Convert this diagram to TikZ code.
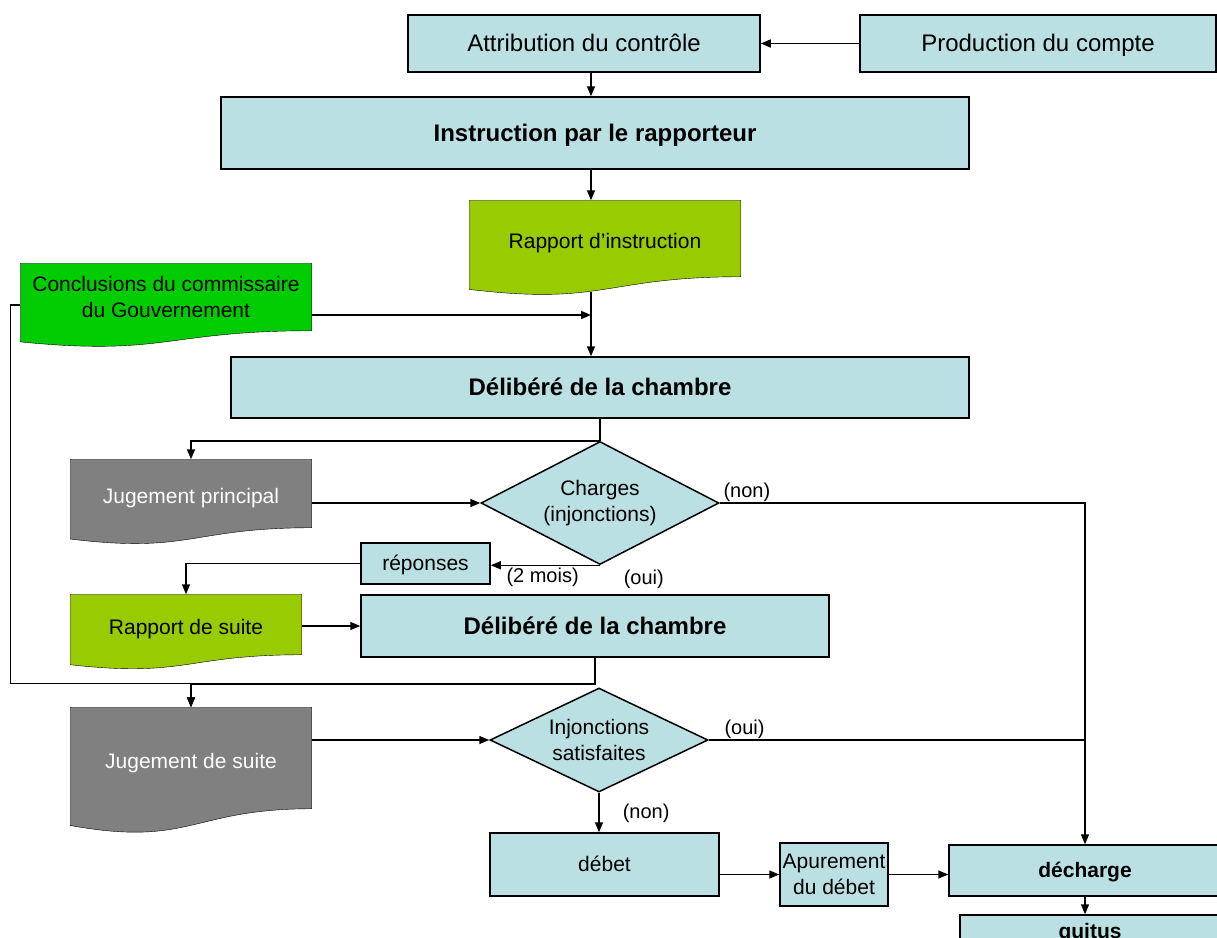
\documentclass[tikz,border=0pt]{standalone}
\usepackage{fontspec}
\setmainfont{Liberation Sans}
\usetikzlibrary{shapes.geometric,arrows.meta,calc,positioning,backgrounds}

\definecolor{lblue}{RGB}{187,224,227}
\definecolor{lgreen}{RGB}{153,204,0}
\definecolor{dgreen}{RGB}{0,204,0}
\definecolor{dgrey}{RGB}{128,128,128}

% document shape: top rectangle is the node, wavy bottom below it
\newcommand{\wave}[2]{\draw[fill=#2] (#1.north west) -- (#1.north east) -- (#1.south east)
  .. controls (#1.south) and ($(#1.north)!1.38!(#1.south)$) .. ($(#1.north west)!1.165!(#1.south west)$) -- cycle;}

\begin{document}
\begin{tikzpicture}[x=1pt,y=-1pt, line width=1.5pt,
    >={Triangle[length=10pt,width=8pt]},
    box/.style={draw, fill=lblue, inner sep=0pt, align=center, font=\fontsize{21}{26}\selectfont},
    cap21/.style={text height=19.5pt, text depth=4.8pt},
    cap24/.style={text height=22.3pt, text depth=5.5pt},
    bigbox/.style={box, cap24, font=\fontsize{24}{29}\selectfont},
    boldbox/.style={box, cap24, font=\fontsize{24}{29}\selectfont\bfseries},
    docbox/.style={inner sep=0pt, align=center, font=\fontsize{21}{26}\selectfont},
    doctext/.style={text height=25.5pt, text depth=4.8pt},
    decision/.style={diamond, draw, fill=lblue, inner sep=0pt, aspect=2, align=center, font=\fontsize{21}{26}\selectfont},
    lbl/.style={inner sep=1pt, font=\fontsize{20}{24}\selectfont}]

    \useasboundingbox (0,0) rectangle (1217,937);

    % top
    \node[bigbox, minimum width=352pt, minimum height=57pt] (attr) at (584,43.5) {Attribution du contr\^ole};
    \node[bigbox, minimum width=356pt, minimum height=57pt] (prod) at (1038,43.5) {Production du compte};
    \node[boldbox, minimum width=748pt, minimum height=72pt] (instr) at (595,133) {Instruction par le rapporteur};
    \node[docbox, doctext, minimum width=270pt, minimum height=75pt] (rapp) at (605,238.5) {Rapport d'instruction};
    \node[docbox, minimum width=290pt, minimum height=66pt] (concl) at (166,297) {Conclusions du commissaire\\du Gouvernement};
    \node[boldbox, minimum width=738pt, minimum height=61pt] (delib1) at (600,387.5) {D\'elib\'er\'e de la chambre};

    % jugement principal
    \node[decision, minimum width=238pt, minimum height=123pt] (dia1) at (600,503) {Charges\\(injonctions)};
    \node[docbox, doctext, text=white, minimum width=240pt, minimum height=67pt] (jugP) at (191,493.5) {Jugement principal};
    \node[box, cap21, minimum width=129pt, minimum height=41pt] (rep) at (425.5,563.5) {r\'eponses};
    \node[docbox, doctext, minimum width=230pt, minimum height=59pt] (rapsuite) at (186,624.5) {Rapport de suite};
    \node[boldbox, minimum width=468pt, minimum height=62pt] (delib2) at (595,626) {D\'elib\'er\'e de la chambre};

    % jugement de suite
    \node[decision, minimum width=218pt, minimum height=104pt] (dia2) at (599,740) {Injonctions\\satisfaites};
    \node[docbox, doctext, text=white, minimum width=240pt, minimum height=100pt] (jugS) at (191,758) {Jugement de suite};
    \node[box, cap21, minimum width=229pt, minimum height=63pt] (debet) at (604.5,864.5) {d\'ebet};
    \node[box, minimum width=108pt, minimum height=63pt] (apur) at (834,874.5) {Apurement\\du d\'ebet};
    \node[box, cap21, font=\fontsize{21}{26}\selectfont\bfseries, minimum width=272pt, minimum height=51pt] (decharge) at (1085,870.5) {d\'echarge};
    \node[box, cap21, font=\fontsize{21}{26}\selectfont\bfseries, minimum width=260pt, minimum height=32pt] (quitus) at (1090,931) {quitus};

    \begin{scope}[on background layer]
        \wave{rapp}{lgreen}
        \wave{concl}{dgreen}
        \wave{jugP}{dgrey}
        \wave{rapsuite}{lgreen}
        \wave{jugS}{dgrey}
    \end{scope}

    \coordinate (axis) at (591,0);
    \coordinate (rappout) at ([yshift=-15pt]rapp.south -| axis);
    \coordinate (join) at (591,315);

    \draw[->] (prod) -- (attr);
    \draw[->] (attr.south -| axis) -- (instr.north -| axis);
    \draw[->] (instr.south -| axis) -- (rapp.north -| axis);
    \draw[->] (rappout) -- (delib1.north -| axis);
    \draw[->] (concl.east |- join) -- (join);
    \draw (delib1.south) -- (dia1.north);
    \draw[->] (dia1.north) -| (jugP.north);
    \draw[->] (jugP.east |- dia1.west) -- (dia1.west);
    \draw[->] (dia1.east) -| (decharge.north);
    \draw[->] (dia1.south) -- (dia1.south -| rep.east);
    \draw[->] (rep.west) -| (rapsuite.north);
    \draw[->] (rapsuite.east |- delib2.west) -- (delib2.west);
    \draw[->] (delib2.south) -- ++(0,26) -| (jugS.north);
    \draw[->] ([yshift=-8pt]concl.west) -- ++(-10,0) |- ($(jugS.north)+(0,-24)$) -- (jugS.north);
    \draw[->] (jugS.east |- dia2.west) -- (dia2.west);
    \draw (dia2.east) -- (dia2.east -| decharge.north);
    \draw[->] (dia2.south) -- (dia2.south |- debet.north);
    \draw[->] (debet.east |- apur.west) -- (apur.west);
    \draw[->] (apur.east) -- (apur.east -| decharge.west);
    \draw[->] (decharge.south) -- (decharge.south |- quitus.north);

    % branch labels
    \node[lbl, anchor=south west] (non1) at ([xshift=2pt]dia1.east) {(non)};
    \node[lbl, anchor=north west] (mois) at ([xshift=14pt,yshift=-3pt]rep.east) {(2 mois)};
    \node[lbl, anchor=north west] (oui1) at ([xshift=22pt,yshift=-3pt]dia1.south) {(oui)};
    \node[lbl, anchor=south west] (oui2) at ([xshift=14pt]dia2.east) {(oui)};
    \node[lbl, anchor=west] (non2) at ([xshift=22pt,yshift=-21pt]dia2.south) {(non)};
\end{tikzpicture}
\end{document}
